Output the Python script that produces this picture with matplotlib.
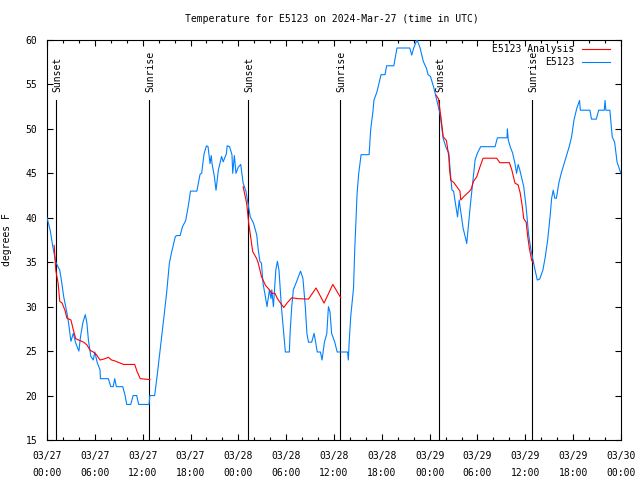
import numpy as np
import matplotlib
matplotlib.use('Agg')
import matplotlib.pyplot as plt

plt.rcParams['font.family'] = 'DejaVu Sans Mono'
plt.rcParams['font.size'] = 7

# Hours since 2024-03-27 00:00 UTC
obs_hours = [0.0, 0.4, 0.7, 1.1, 1.6, 1.8, 2.1, 2.5, 2.7, 3.0, 3.3, 3.6, 4.0, 4.2, 4.5, 4.8, 5.0, 5.2, 5.5, 5.8,
             6.0, 6.3, 6.65, 6.7, 7.7, 8.0, 8.3, 8.5, 8.7, 9.5, 9.8, 10.0, 10.5, 10.8, 11.25, 11.5, 12.8, 12.9,
             13.5, 13.8, 14.1, 14.4, 14.7, 15.0, 15.35, 15.6, 16.1, 16.3, 16.7, 17.0, 17.4, 17.7, 18.0, 18.8,
             19.2, 19.4, 19.7, 20.0, 20.2, 20.45, 20.6, 20.7, 21.0, 21.2, 21.5, 21.9, 22.1, 22.5, 22.6, 22.9,
             23.2, 23.3, 23.5, 23.7, 24.0, 24.3, 24.6, 24.95, 25.3, 25.5, 25.9, 26.3, 26.5, 26.7, 26.9, 27.1,
             27.4, 27.6, 27.9, 28.1, 28.2, 28.4, 28.7, 28.9, 29.1, 29.4, 29.65, 29.9, 30.4, 30.5, 30.7, 30.9,
             31.3, 31.8, 32.1, 32.4, 32.6, 32.8, 33.2, 33.5, 33.7, 33.9, 34.3, 34.5, 34.8, 35.1, 35.3, 35.5,
             35.7, 36.1, 36.4, 37.7, 37.8, 37.9, 38.1, 38.45, 38.6, 38.9, 39.1, 39.4, 40.4, 40.6, 40.9, 41.0,
             41.4, 41.9, 42.4, 42.6, 43.5, 43.9, 45.5, 45.75, 46.0, 46.4, 46.6, 46.8, 47.2, 47.6, 47.8, 48.1,
             48.5, 48.9, 49.3, 49.7, 50.1, 50.4, 50.6, 50.8, 51.0, 51.2, 51.5, 51.7, 51.85, 52.2, 52.45, 52.65,
             52.8, 53.1, 53.4, 53.7, 54.0, 54.4, 56.2, 56.5, 57.7, 57.75, 57.85, 58.1, 58.4, 58.7, 58.9, 59.1,
             59.3, 59.8, 60.1, 60.4, 60.7, 61.0, 61.2, 61.5, 61.8, 62.2, 62.5, 62.8, 63.1, 63.3, 63.5, 63.7,
             63.9, 64.2, 64.5, 64.8, 65.2, 65.5, 65.8, 66.1, 66.45, 66.8, 66.9, 68.1, 68.3, 68.9, 69.2, 69.9,
             70.0, 70.1, 70.6, 70.9, 71.2, 71.5, 71.9, 72.0]
obs_temp = [40.0, 38.6, 36.9, 35.0, 34.1, 33.0, 31.1, 29.3, 28.2, 26.1, 27.0, 25.9, 25.0, 26.6, 28.2, 29.1, 28.2, 26.2, 24.4, 24.0,
            24.9, 23.7, 22.9, 21.9, 21.9, 21.0, 21.0, 21.9, 21.0, 21.0, 20.0, 19.0, 19.0, 20.0, 20.0, 19.0, 19.0, 20.0,
            20.0, 22.1, 24.4, 26.6, 29.1, 31.5, 34.9, 36.0, 37.9, 38.0, 38.0, 39.0, 39.7, 41.2, 43.0, 43.0,
            44.9, 45.0, 47.2, 48.1, 48.0, 46.1, 47.0, 46.1, 44.6, 43.1, 45.4, 46.9, 46.3, 47.2, 48.1, 48.0,
            47.1, 45.0, 47.0, 45.0, 45.7, 46.0, 43.9, 43.0, 41.2, 40.1, 39.4, 38.1, 36.4, 35.1, 34.9, 32.6,
            31.1, 30.0, 31.9, 30.9, 31.9, 30.0, 34.1, 35.1, 34.1, 30.0, 27.4, 24.9, 24.9, 27.2, 30.0, 31.9,
            32.8, 34.0, 33.2, 30.0, 27.0, 26.0, 26.0, 27.0, 26.0, 24.9, 24.9, 24.0, 26.0, 27.0, 30.0, 29.4,
            27.0, 26.0, 24.9, 24.9, 24.0, 26.0, 28.9, 32.1, 36.4, 42.8, 45.0, 47.1, 47.1, 49.9, 52.1, 53.2,
            54.2, 56.1, 56.1, 57.1, 57.1, 59.1, 59.1, 58.3, 59.1, 60.0, 59.6, 59.1, 57.6, 56.8, 56.1, 55.9,
            54.7, 53.2, 51.7, 48.9, 47.8, 47.3, 45.0, 43.1, 43.0, 41.8, 40.1, 42.0, 41.0, 38.8, 37.9, 37.1,
            38.5, 41.4, 43.9, 46.5, 47.3, 48.0, 48.0, 49.0, 49.0, 50.0, 48.8, 48.0, 47.3, 46.1, 45.0, 46.0,
            45.4, 43.5, 41.2, 38.2, 36.4, 35.1, 34.2, 33.0, 33.1, 34.1, 35.6, 37.5, 40.1, 42.2, 43.1, 42.2,
            42.2, 43.9, 45.0, 45.9, 47.1, 48.0, 49.1, 51.0, 52.3, 53.2, 52.1, 52.1, 51.1, 51.1, 52.1, 52.1,
            53.2, 52.1, 52.1, 49.1, 48.5, 46.3, 45.2, 45.0]

# Analysis only exists overnight (gaps between nights)
ana_hours = [0.9, 1.1, 1.4, 1.6, 1.9, 2.25, 2.5, 3.0, 3.3, 3.6, 4.1, 4.6, 5.0, 5.4, 5.8, 6.2, 6.65, 7.1, 7.7,
             8.1, 8.5, 9.6, 11.0, 11.3, 11.7, 12.9, np.nan,
             24.6, 25.05, 25.3, 25.6, 25.8, 26.3, 26.5, 26.9, 27.4, 27.8, 28.2, 28.6, 28.9, 29.3, 29.7, 30.1,
             30.7, 31.5, 32.8, 33.75, 34.75, 35.85, 36.85, np.nan,
             48.8, 49.1, 49.4, 49.7, 50.1, 50.4, 50.5, 50.65, 51.0, 51.4, 51.8, 51.9, 52.3, 52.9, 53.2, 53.5,
             53.9, 54.3, 54.7, 55.4, 56.4, 56.8, 58.0, 58.3, 58.7, 59.1, 59.35, 59.6, 59.8, 60.1, 60.3, 60.5,
             60.8, 61.0]
ana_temp = [36.9, 34.1, 32.6, 30.6, 30.4, 29.6, 28.7, 28.5, 27.4, 26.4, 26.2, 26.0, 25.7, 25.1, 24.9, 24.6, 24.0, 24.1, 24.3,
            24.0, 23.9, 23.5, 23.5, 22.7, 21.9, 21.8, np.nan,
            43.5, 41.6, 39.4, 37.5, 36.2, 35.4, 34.9, 33.4, 32.4, 32.0, 31.5, 31.5, 30.9, 30.4, 29.9, 30.4,
            31.0, 30.9, 30.85, 32.1, 30.4, 32.5, 31.0, np.nan,
            53.8, 53.4, 51.4, 49.1, 48.7, 46.9, 45.4, 44.2, 44.0, 43.5, 43.0, 42.0, 42.4, 42.9, 43.2, 44.1,
            44.6, 45.7, 46.7, 46.7, 46.7, 46.2, 46.2, 45.4, 43.9, 43.7, 42.8, 41.4, 39.9, 39.5, 37.9, 36.6,
            35.2, 34.9]

sun_hours = [1.15, 12.82, 25.22, 36.78, 49.23, 60.82]
sun_labels = ['Sunset', 'Sunrise', 'Sunset', 'Sunrise', 'Sunset', 'Sunrise']

tick_hours = list(range(0, 73, 6))
tick_labels = ['03/27\n00:00', '03/27\n06:00', '03/27\n12:00', '03/27\n18:00',
               '03/28\n00:00', '03/28\n06:00', '03/28\n12:00', '03/28\n18:00',
               '03/29\n00:00', '03/29\n06:00', '03/29\n12:00', '03/29\n18:00',
               '03/30\n00:00']

fig = plt.figure(figsize=(6.4, 4.8), dpi=100)
ax = fig.add_axes([47 / 640, 40 / 480, 574 / 640, 400 / 480])

ax.plot(ana_hours, ana_temp, color='#ff0000', lw=0.8, label='E5123 Analysis', zorder=4)
ax.plot(obs_hours, obs_temp, color='#0080ff', lw=0.8, label='E5123', zorder=3)

for h, lab in zip(sun_hours, sun_labels):
    ax.plot([h, h], [15, 53.3], color='black', lw=0.8, zorder=2)
    ax.text(h + 0.15, 54.1, lab, rotation=90, ha='center', va='bottom')

ax.set_xlim(0, 72)
ax.set_ylim(15, 60)
ax.set_xticks(tick_hours)
ax.set_xticklabels(tick_labels, linespacing=1.9)
ax.set_xticks(range(0, 73, 2), minor=True)
ax.set_yticks(range(15, 61, 5))
ax.tick_params(direction='in', top=True, right=True, length=4, width=0.8)
ax.tick_params(which='minor', direction='in', top=True, length=2.5, width=0.8)
ax.tick_params(axis='x', pad=8)
ax.tick_params(axis='y', pad=7)
for sp in ax.spines.values():
    sp.set_linewidth(0.8)

ax.set_ylabel('degrees F', labelpad=10)
fig.text(0.519, 0.96, 'Temperature for E5123 on 2024-Mar-27 (time in UTC)', ha='center', va='center')

ax.legend(loc='upper right', bbox_to_anchor=(0.981, 0.99), frameon=False, markerfirst=False,
          borderaxespad=0, borderpad=0, labelspacing=0.3, handlelength=2.9, handletextpad=0.8)

fig.savefig('out.png', dpi=100)
